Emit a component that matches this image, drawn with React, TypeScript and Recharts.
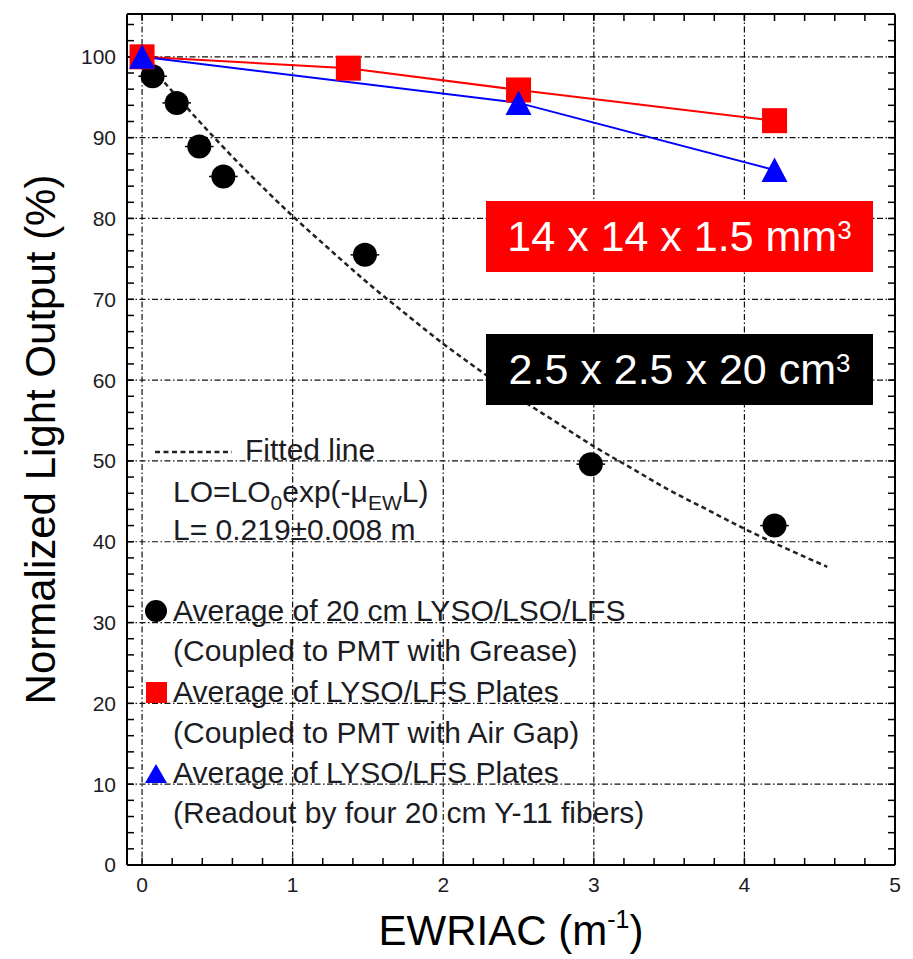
import React from 'react';
import { ComposedChart, Line, Scatter, XAxis, YAxis, CartesianGrid, ErrorBar } from 'recharts';

// ---- data ----
const circleX = [0, 0.07, 0.23, 0.38, 0.54, 1.48, 2.98, 4.2];
const circleY = [100, 97.6, 94.3, 88.9, 85.2, 75.5, 49.6, 42.0];
const circleXErr = [0.095, 0.095, 0.095, 0.095, 0.095, 0.095, 0.095, 0.095];

const squareX = [0, 1.37, 2.5, 4.2];
const squareY = [100, 98.6, 95.9, 92.1];

const triangleX = [0, 2.5, 4.2];
const triangleY = [100, 94.3, 86.0];

const fitX = [0, 0.25, 0.5, 0.75, 1, 1.25, 1.5, 1.75, 2, 2.25, 2.5, 2.75, 3, 3.25, 3.5, 3.75, 4, 4.25, 4.55];
const fitY = [100, 94.7, 89.6, 84.8, 80.3, 76.1, 72.0, 68.2, 64.5, 61.1, 57.8, 54.8, 51.8, 49.1, 46.4, 44.0, 41.6, 39.4, 36.9];

const xTicks = [0, 1, 2, 3, 4, 5];
const yTicks = [0, 10, 20, 30, 40, 50, 60, 70, 80, 90, 100];
const xMinorTicks = [0, 0.2, 0.4, 0.6, 0.8, 1, 1.2, 1.4, 1.6, 1.8, 2, 2.2, 2.4, 2.6, 2.8, 3, 3.2, 3.4, 3.6, 3.8, 4, 4.2, 4.4, 4.6, 4.8, 5];
const yMinorTicks = [0, 2, 4, 6, 8, 10, 12, 14, 16, 18, 20, 22, 24, 26, 28, 30, 32, 34, 36, 38, 40, 42, 44, 46, 48, 50, 52, 54, 56, 58, 60, 62, 64, 66, 68, 70, 72, 74, 76, 78, 80, 82, 84, 86, 88, 90, 92, 94, 96, 98, 100, 102, 104];

const xDomain: [number, number] = [-0.1, 5];
const yDomain: [number, number] = [0, 105.3];

const circles = circleX.map((x, i) => ({ x, y: circleY[i], xerr: circleXErr[i] }));
const squares = squareX.map((x, i) => ({ x, y: squareY[i] }));
const triangles = triangleX.map((x, i) => ({ x, y: triangleY[i] }));
const fit = fitX.map((x, i) => ({ x, y: fitY[i] }));

const FONT = '"Liberation Sans", Arial, Helvetica, sans-serif';
const INK = '#1c1c24';

const noTick = () => <g />;

const SquareDot = (p: any) => (
  <rect key={`sq-${p.index}`} x={p.cx - 12.5} y={p.cy - 12.5} width={25} height={25} fill="#ff0000" />
);
const TriangleDot = (p: any) => (
  <polygon
    key={`tr-${p.index}`}
    points={`${p.cx},${p.cy - 12.5} ${p.cx - 13},${p.cy + 12} ${p.cx + 13},${p.cy + 12}`}
    fill="#0000ff"
  />
);
const CircleShape = (p: any) => <circle cx={p.cx} cy={p.cy} r={12} fill="#000" />;

const XTitle = (props: any) => {
  const vb = props.viewBox || { x: 0, y: 0, width: 0, height: 0 };
  const cx = vb.x + vb.width / 2;
  return (
    <text x={cx} y={vb.y + 80} textAnchor="middle" fontFamily={FONT} fontSize={42} fill="#000">
      EWRIAC (m
      <tspan dy={-17} fontSize={25}>-1</tspan>
      <tspan dy={17}>)</tspan>
    </text>
  );
};

const YTitle = (props: any) => {
  const vb = props.viewBox || { x: 0, y: 0, width: 0, height: 0 };
  const cy = vb.y + vb.height / 2;
  const x = 47;
  return (
    <text
      x={x}
      y={cy}
      textAnchor="middle"
      fontFamily={FONT}
      fontSize={42}
      fill="#000"
      transform={`rotate(-90, ${x}, ${cy})`}
    >
      Normalized Light Output (%)
    </text>
  );
};

const textLine = (top: number, left: number, content: React.ReactNode) => (
  <div
    style={{
      position: 'absolute',
      top,
      left,
      fontFamily: FONT,
      fontSize: 30,
      lineHeight: '34px',
      color: INK,
      whiteSpace: 'nowrap',
    }}
  >
    {content}
  </div>
);

const boxStyle = (top: number, bg: string): React.CSSProperties => ({
  position: 'absolute',
  left: 478,
  top,
  width: 387,
  height: 71,
  background: bg,
  color: '#fff',
  fontFamily: FONT,
  fontSize: 43,
  lineHeight: 1,
  display: 'flex',
  alignItems: 'center',
  justifyContent: 'center',
  whiteSpace: 'nowrap',
});

const supStyle: React.CSSProperties = { fontSize: 26, verticalAlign: '12px' };

export default function App() {
  return (
    <div style={{ position: 'relative', width: 905, height: 951 }}>
      <ComposedChart
        width={905}
        height={951}
        margin={{ top: 6, right: 18, left: 59, bottom: 54 }}
      >
        <CartesianGrid
          xAxisId={0}
          yAxisId={0}
          stroke="#111"
          strokeWidth={1.2}
          strokeDasharray="6 2.5 1.5 2.5"
        />
        {/* main labelled axes */}
        <XAxis
          xAxisId={0}
          type="number"
          dataKey="x"
          domain={xDomain}
          ticks={xTicks}
          allowDataOverflow
          interval={0}
          height={40}
          tickLine={false}
          tickSize={0}
          tickMargin={12}
          axisLine={{ stroke: '#000', strokeWidth: 2 }}
          tick={{ fontFamily: FONT, fontSize: 21, fill: INK }}
          label={{ content: XTitle }}
        />
        <YAxis
          yAxisId={0}
          type="number"
          dataKey="y"
          domain={yDomain}
          ticks={yTicks}
          allowDataOverflow
          interval={0}
          width={60}
          tickLine={false}
          tickSize={0}
          tickMargin={11}
          axisLine={{ stroke: '#000', strokeWidth: 2 }}
          tick={{ fontFamily: FONT, fontSize: 21, fill: INK }}
          label={{ content: YTitle }}
        />
        {/* minor inward ticks */}
        <XAxis
          xAxisId="xb"
          type="number"
          dataKey="x"
          orientation="bottom"
          mirror
          domain={xDomain}
          ticks={xMinorTicks}
          allowDataOverflow
          interval={0}
          height={10}
          axisLine={false}
          tickSize={7}
          tickLine={{ stroke: '#000', strokeWidth: 1.5 }}
          tick={noTick}
        />
        <XAxis
          xAxisId="xt"
          type="number"
          dataKey="x"
          orientation="top"
          mirror
          domain={xDomain}
          ticks={xMinorTicks}
          allowDataOverflow
          interval={0}
          height={10}
          axisLine={{ stroke: '#000', strokeWidth: 2 }}
          tickSize={7}
          tickLine={{ stroke: '#000', strokeWidth: 1.5 }}
          tick={noTick}
        />
        <YAxis
          yAxisId="yl"
          type="number"
          dataKey="y"
          orientation="left"
          mirror
          domain={yDomain}
          ticks={yMinorTicks}
          allowDataOverflow
          interval={0}
          width={10}
          axisLine={false}
          tickSize={7}
          tickLine={{ stroke: '#000', strokeWidth: 1.5 }}
          tick={noTick}
        />
        <YAxis
          yAxisId="yr"
          type="number"
          dataKey="y"
          orientation="right"
          mirror
          domain={yDomain}
          ticks={yMinorTicks}
          allowDataOverflow
          interval={0}
          width={10}
          axisLine={{ stroke: '#000', strokeWidth: 2 }}
          tickSize={7}
          tickLine={{ stroke: '#000', strokeWidth: 1.5 }}
          tick={noTick}
        />

        <Line
          xAxisId={0}
          yAxisId={0}
          data={fit}
          dataKey="y"
          type="monotone"
          stroke="#222"
          strokeWidth={2.5}
          strokeDasharray="5 3.5"
          dot={false}
          activeDot={false}
          isAnimationActive={false}
        />
        <Scatter
          xAxisId={0}
          yAxisId={0}
          data={circles}
          dataKey="y"
          fill="#000"
          shape={CircleShape}
          isAnimationActive={false}
        >
          <ErrorBar dataKey="xerr" direction="x" width={0} stroke="#000" strokeWidth={1.5} />
        </Scatter>
        <Line
          xAxisId={0}
          yAxisId={0}
          data={squares}
          dataKey="y"
          type="linear"
          stroke="#ff0000"
          strokeWidth={2}
          dot={SquareDot}
          activeDot={false}
          isAnimationActive={false}
        />
        <Line
          xAxisId={0}
          yAxisId={0}
          data={triangles}
          dataKey="y"
          type="linear"
          stroke="#0000ff"
          strokeWidth={2}
          dot={TriangleDot}
          activeDot={false}
          isAnimationActive={false}
        />
      </ComposedChart>

      {/* annotation boxes */}
      <div style={boxStyle(193, '#ff0000')}>
        <span>
          14 x 14 x 1.5 mm<span style={supStyle}>3</span>
        </span>
      </div>
      <div style={boxStyle(326, '#000000')}>
        <span>
          2.5 x 2.5 x 20 cm<span style={supStyle}>3</span>
        </span>
      </div>

      {/* in-plot legend */}
      <svg style={{ position: 'absolute', left: 147, top: 440, overflow: 'visible' }} width={80} height={8}>
        <line x1={0} y1={4} x2={77} y2={4} stroke="#222" strokeWidth={2.5} strokeDasharray="5 3.5" />
      </svg>
      {textLine(425, 237, 'Fitted line')}
      {textLine(
        467,
        165,
        <span>
          LO=LO<span style={{ fontSize: 21, verticalAlign: '-8px' }}>0</span>exp(-μ
          <span style={{ fontSize: 21, verticalAlign: '-8px' }}>EW</span>L)
        </span>
      )}
      {textLine(505, 165, 'L= 0.219±0.008 m')}

      <svg style={{ position: 'absolute', left: 136, top: 591, overflow: 'visible' }} width={24} height={24}>
        <circle cx={12} cy={12} r={11} fill="#000" />
      </svg>
      {textLine(586, 165, 'Average of 20 cm LYSO/LSO/LFS')}
      {textLine(626, 165, '(Coupled to PMT with Grease)')}

      <svg style={{ position: 'absolute', left: 137.5, top: 673.5, overflow: 'visible' }} width={21} height={21}>
        <rect x={0} y={0} width={21} height={21} fill="#ff0000" />
      </svg>
      {textLine(667, 165, 'Average of LYSO/LFS Plates')}
      {textLine(708, 165, '(Coupled to PMT with Air Gap)')}

      <svg style={{ position: 'absolute', left: 137, top: 756, overflow: 'visible' }} width={22} height={20}>
        <polygon points="11,0 0,19 22,19" fill="#0000ff" />
      </svg>
      {textLine(748, 165, 'Average of LYSO/LFS Plates')}
      {textLine(788, 165, '(Readout by four 20 cm Y-11 fibers)')}
    </div>
  );
}
